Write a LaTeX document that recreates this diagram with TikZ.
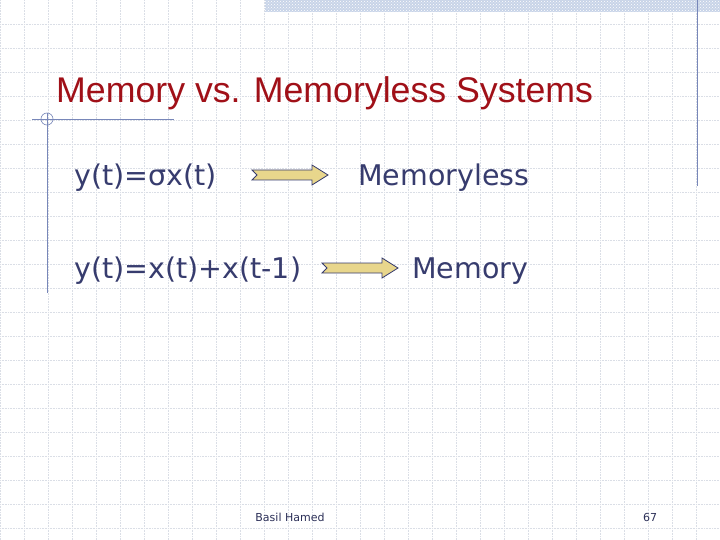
\documentclass[tikz,border=0pt]{standalone}
\usepackage{fontspec}
\setmainfont{DejaVu Sans}
\newfontfamily\arial{Liberation Sans}
\usetikzlibrary{patterns}
\definecolor{gridc}{RGB}{218,222,230}
\definecolor{titlec}{RGB}{160,16,24}
\definecolor{bodyc}{RGB}{55,60,110}
\definecolor{linec}{RGB}{120,135,185}
\definecolor{arrfill}{RGB}{232,214,140}
\definecolor{bandc}{RGB}{200,212,232}
\tikzset{
 body/.style={anchor=west,text=bodyc,font=\fontsize{28.5}{33}\selectfont,inner sep=0pt},
 foot/.style={text=bodyc!80!black,font=\fontsize{11}{13}\selectfont,inner sep=0pt},
 fatarrow/.style={fill=arrfill,draw=bodyc,line width=0.8pt,line join=miter}
}
\begin{document}
\begin{tikzpicture}[x=1pt,y=-1pt]
\useasboundingbox (0,0) rectangle (720,540);
\fill[white] (0,0) rectangle (720,540);
\foreach \i in {0,...,30} {\draw[gridc,densely dotted,line width=0.6pt] (\i*24,0) -- (\i*24,540);}
\foreach \j in {1,...,22} {\draw[gridc,densely dotted,line width=0.6pt] (0,\j*24) -- (720,\j*24);}
\fill[bandc] (265,0) rectangle (720,12);
\fill[pattern=crosshatch dots,pattern color=white] (265,0) rectangle (720,12);
\draw[linec,line width=0.8pt] (697,0) -- (697,186);
\draw[linec,line width=0.8pt] (47,113) -- (47,293);
\draw[linec,line width=0.8pt] (32,119) -- (174,119);
\draw[linec,line width=0.6pt] (47,119) circle (6);
\node[anchor=base west,text=titlec,font=\arial\fontsize{35.7}{42}\selectfont,inner sep=0pt] (title) at (56,103) {Memory vs. Memoryless Systems};
\node[body,anchor=base west] (e1) at (74,186) {y(t)=σx(t)};
\node[body,anchor=base west] (m1) at (358,186) {Memoryless};
\node[body,anchor=base west] (e2) at (74,278) {y(t)=x(t)+x(t-1)};
\node[body,anchor=base west] (m2) at (412,278) {Memory};
\draw[fatarrow] (252,170) -- (312,170) -- (312,165) -- (328,175) -- (312,185) -- (312,180) -- (252,180) -- (257,175) -- cycle;
\draw[fatarrow] (322,263) -- (382,263) -- (382,258) -- (398,268) -- (382,278) -- (382,273) -- (322,273) -- (327,268) -- cycle;
\node[foot] (f1) at (290,517) {Basil Hamed};
\node[foot] (f2) at (650,517) {67};
\end{tikzpicture}
\end{document}
